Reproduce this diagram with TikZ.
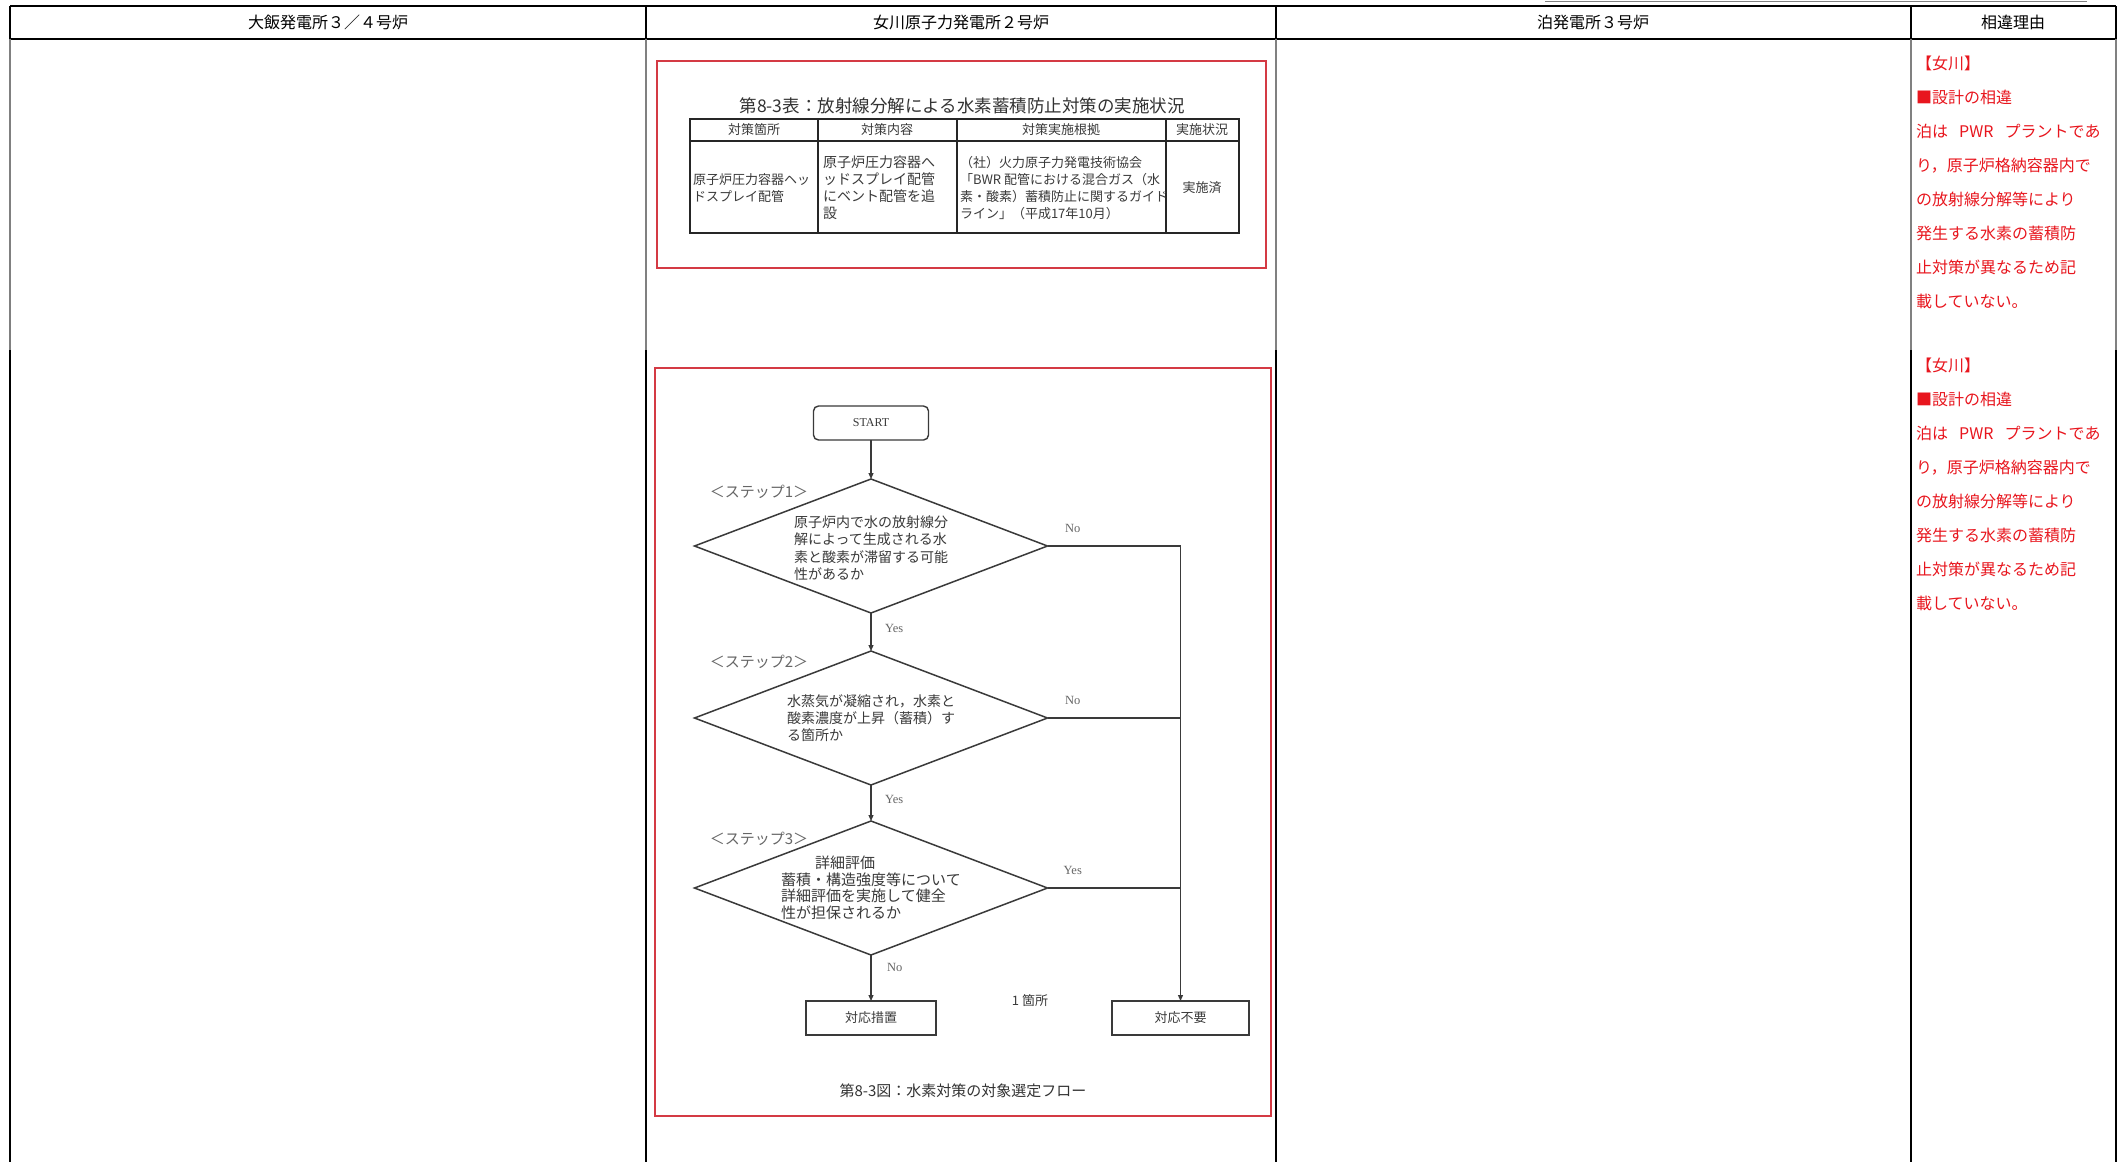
\documentclass[tikz,border=0pt]{standalone}
\usepackage{fontspec}
\setmainfont{Noto Sans CJK JP}
\newfontfamily\romanfont{Liberation Serif}
\usetikzlibrary{positioning, arrows.meta, shapes.geometric, calc}
\definecolor{framered}{HTML}{D43A44}
\definecolor{notered}{HTML}{E8161E}
\definecolor{flowgray}{HTML}{3A3A3A}
\definecolor{gridgray}{HTML}{808080}

\newcommand{\tomarinote}{【女川】\\■設計の相違\\泊は\hspace{0.7em}PWR\hspace{0.7em}プラントであ\\り，原子炉格納容器内で\\の放射線分解等により\\発生する水素の蓄積防\\止対策が異なるため記\\載していない。}

\begin{document}
\begin{tikzpicture}[
    x=1pt, y=-1pt,
    >={Triangle[length=6pt, width=5pt]},
    every node/.style={inner sep=0pt, outer sep=0pt, text=flowgray},
    headtext/.style={font=\fontsize{16}{18}\selectfont, text=black},
    flowline/.style={draw=flowgray, line width=1.2pt},
    redframe/.style={draw=framered, line width=1.3pt},
    startbox/.style={
        draw=flowgray, line width=1.4pt, rounded corners=5pt,
        minimum width=115pt, minimum height=34pt,
        font=\romanfont\fontsize{12}{14}\selectfont
    },
    endbox/.style={draw=flowgray, line width=1.4pt, minimum height=34pt,
        font=\fontsize{13}{15}\selectfont},
    decision/.style={diamond, draw=flowgray, line width=1.5pt,
        minimum width=353pt, minimum height=134pt},
    decisiontext/.style={align=left, font=\fontsize{14}{17.5}\selectfont},
    steplabel/.style={font=\fontsize{15}{17}\selectfont, text=black!60},
    yesno/.style={font=\romanfont\fontsize{12.5}{14}\selectfont, text=black!60},
    celltext/.style={font=\fontsize{13}{17}\selectfont, align=left, anchor=west},
    cellhead/.style={font=\fontsize{13}{15}\selectfont},
    captext/.style={font=\fontsize{15}{17}\selectfont, text=black!80},
    reasontext/.style={anchor=north west, align=left, text=notered,
        font=\fontsize{16}{34}\selectfont},
]

% === page ===
\path[fill=white, use as bounding box] (0,0) rectangle (2123,1162);

% === comparison table grid ===
\draw[gridgray, line width=1.2pt] (1545,1.5) -- (2087,1.5);
\draw[black, line width=2.6pt] (10,6) -- (2116,6);
\draw[black, line width=1.2pt] (10,39) -- (2116,39);
\draw[black, line width=1.3pt]
    (10,6) -- (10,39) (646,6) -- (646,39) (1276,6) -- (1276,39)
    (1911,6) -- (1911,39) (2116,6) -- (2116,39);
\draw[gridgray, line width=1.3pt]
    (10,39) -- (10,350) (646,39) -- (646,350) (1276,39) -- (1276,350)
    (1911,39) -- (1911,350) (2116,39) -- (2116,350);
\draw[black, line width=1.8pt]
    (10,350) -- (10,1162) (646,350) -- (646,1162) (1276,350) -- (1276,1162)
    (1911,350) -- (1911,1162) (2116,350) -- (2116,1162);

% === column headers ===
\node[headtext] (hohi) at (328,22) {大飯発電所３／４号炉};
\node[headtext] (honagawa) at (961,22) {女川原子力発電所２号炉};
\node[headtext] (htomari) at (1593,22) {泊発電所３号炉};
\node[headtext] (hreason) at (2013,22) {相違理由};

% === Table 8-3 ===
\draw[redframe] (657,61) rectangle (1266,268);
\node[captext, font=\fontsize{17.5}{19}\selectfont] (tblcap) at (962,106)
    {第8-3表：放射線分解による水素蓄積防止対策の実施状況};
\draw[black!85, line width=1.2pt] (690,119) rectangle (1239,233);
\draw[black!85, line width=1.1pt]
    (690,141) -- (1239,141)
    (818,119) -- (818,233) (957,119) -- (957,233) (1166,119) -- (1166,233);
\node[cellhead] (th1) at (754,130) {対策箇所};
\node[cellhead] (th2) at (887,130) {対策内容};
\node[cellhead] (th3) at (1061,130) {対策実施根拠};
\node[cellhead] (th4) at (1202,130) {実施状況};
\node[celltext] (td1) at (693,188) {原子炉圧力容器ヘッ\\ドスプレイ配管};
\node[celltext, font=\fontsize{14}{17}\selectfont] (td2) at (823,188)
    {原子炉圧力容器へ\\ッドスプレイ配管\\にベント配管を追\\設};
\node[celltext] (td3) at (960,188)
    {（社）火力原子力発電技術協会\\「BWR 配管における混合ガス（水\\素・酸素）蓄積防止に関するガイド\\ライン」（平成17年10月）};
\node[cellhead] (td4) at (1202,188) {実施済};

% === Figure 8-3 flow ===
\draw[redframe] (655,368) rectangle (1271,1116);

\node[startbox] (start) at (871,423) {START};
\node[decision, below=39pt of start] (d1) {};
\node[decision, below=38pt of d1] (d2) {};
\node[decision, below=36pt of d2] (d3) {};
\node[endbox, minimum width=130pt, below=46pt of d3] (act) {対応措置};
\node[endbox, minimum width=137pt, right=176pt of act] (none) {対応不要};

\node[decisiontext] (d1txt) at ([yshift=-2pt]d1)
    {原子炉内で水の放射線分\\解によって生成される水\\素と酸素が滞留する可能\\性があるか};
\node[decisiontext, font=\fontsize{14}{17}\selectfont] (d2txt) at (d2)
    {水蒸気が凝縮され，水素と\\酸素濃度が上昇（蓄積）す\\る箇所か};
\node[decisiontext, font=\fontsize{15}{16.5}\selectfont] (d3txt) at (d3)
    {\hspace*{34pt}詳細評価\\蓄積・構造強度等について\\詳細評価を実施して健全\\性が担保されるか};

\node[steplabel] (s1) at ([shift={(-112,13)}]d1.north) {＜ステップ1＞};
\node[steplabel] (s2) at ([shift={(-112,11)}]d2.north) {＜ステップ2＞};
\node[steplabel] (s3) at ([shift={(-112,18)}]d3.north) {＜ステップ3＞};

% main path
\draw[flowline, ->] (start) -- (d1);
\draw[flowline, ->] (d1) -- node[yesno, pos=0.4, right=14pt] {Yes} (d2);
\draw[flowline, ->] (d2) -- node[yesno, pos=0.4, right=14pt] {Yes} (d3);
\draw[flowline, ->] (d3) -- node[yesno, pos=0.26, right=16pt] {No} (act);

% side branch to no-action box
\draw[flowline, ->] (d1.east)
    -- node[yesno, pos=0.19, above=13pt] {No} (d1.east -| none.north)
    -- (none.north);
\draw[flowline] (d2.east)
    -- node[yesno, pos=0.19, above=13pt] {No} (d2.east -| none.north);
\draw[flowline] (d3.east)
    -- node[yesno, pos=0.19, above=13pt] {Yes} (d3.east -| none.north);

\node[font=\fontsize{13}{15}\selectfont] (onesite) at ([xshift=94pt]act.north east) {1 箇所};
\node[captext] (figcap) at (963,1091) {第8-3図：水素対策の対象選定フロー};

% === reasons column ===
\node[reasontext] (reason1) at (1916,56) {\tomarinote};
\node[reasontext] (reason2) at (1916,358) {\tomarinote};

\end{tikzpicture}
\end{document}
